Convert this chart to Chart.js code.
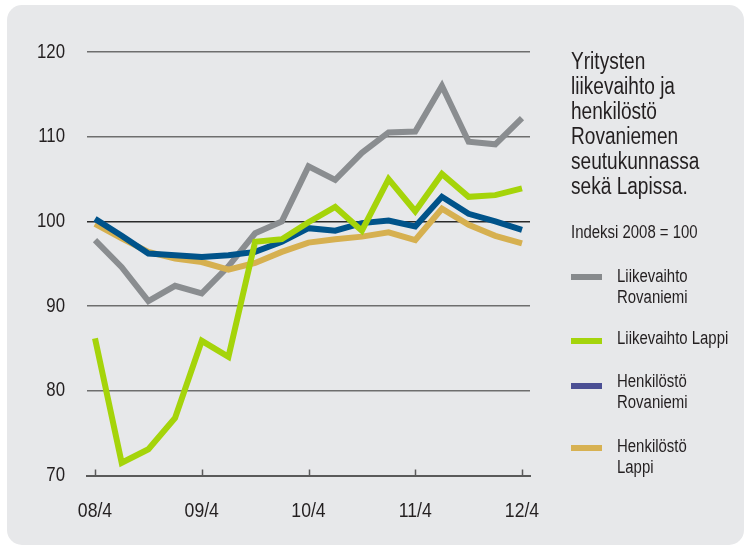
<!DOCTYPE html>
<html>
<head>
<meta charset="utf-8">
<script src="https://cdn.jsdelivr.net/npm/chart.js@4.4.1/dist/chart.umd.min.js"></script>
<style>
  html, body { margin:0; padding:0; background:#ffffff; }
  body { width:747px; height:548px; position:relative; overflow:hidden;
         font-family:"Liberation Sans",Arial,sans-serif; color:#231f20; }
  #card { position:absolute; left:7px; top:5px; width:737px; height:540px; background:#e7e8ea; border-radius:15px; }
  #wrap { position:absolute; left:0; top:0; width:747px; height:548px; }
  .t { position:absolute; left:571px; white-space:nowrap; transform:scaleX(0.83); transform-origin:0 0; }
  #title { top:49px; font-size:23px; line-height:25px; }
  #idx { top:222px; font-size:18px; line-height:21px; }
  .lg { font-size:18px; line-height:21px; left:617px; }
  .sw { position:absolute; left:571px; width:31px; height:6px; }
</style>
</head>
<body>
<div id="card"></div>
<div id="wrap"><canvas id="c" width="747" height="548"></canvas></div>
<div class="t" id="title">Yritysten<br>liikevaihto ja<br>henkilöstö<br>Rovaniemen<br>seutukunnassa<br>sekä Lapissa.</div>
<div class="t" id="idx">Indeksi 2008 = 100</div>
<div class="sw" style="top:274px;background:#878a8d"></div>
<div class="t lg" style="top:266px">Liikevaihto<br>Rovaniemi</div>
<div class="sw" style="top:338px;background:#a4d40c"></div>
<div class="t lg" style="top:328px">Liikevaihto Lappi</div>
<div class="sw" style="top:383px;background:#4b4f94"></div>
<div class="t lg" style="top:371px">Henkilöstö<br>Rovaniemi</div>
<div class="sw" style="top:445px;background:#d7b152"></div>
<div class="t lg" style="top:436px">Henkilöstö<br>Lappi</div>
<script>
// Quarters 08/4 ... 12/4
const quarters = ['08/4','09/1','09/2','09/3','09/4','10/1','10/2','10/3','10/4','11/1','11/2','11/3','11/4','12/1','12/2','12/3','12/4'];
const tickLabels = ['08/4','09/4','10/4','11/4','12/4'];
const tickIndex = [0, 4, 8, 12, 16];
const yTicks = [70, 80, 90, 100, 110, 120];

const liikevaihtoRovaniemi = [97.8, 94.6, 90.6, 92.4, 91.5, 94.7, 98.6, 100.0, 106.5, 104.9, 108.1, 110.5, 110.6, 116.0, 109.4, 109.1, 112.2];
const liikevaihtoLappi     = [86.2, 71.5, 73.1, 76.8, 85.9, 84.0, 97.6, 97.9, 99.9, 101.7, 98.9, 105.0, 101.2, 105.6, 102.9, 103.1, 103.9];
const henkilostoRovaniemi  = [100.3, 98.3, 96.2, 96.0, 95.8, 96.0, 96.4, 97.6, 99.2, 98.9, 99.8, 100.1, 99.4, 102.9, 100.9, 100.0, 99.0];
const henkilostoLappi      = [99.7, 98.0, 96.4, 95.6, 95.2, 94.3, 95.1, 96.4, 97.5, 97.9, 98.2, 98.7, 97.8, 101.5, 99.6, 98.3, 97.4];

const pts = arr => arr.map((v, i) => ({x: i, y: v}));

// condensed look for canvas labels: scale text horizontally around its anchor
const canvas = document.getElementById('c');
const cctx = canvas.getContext('2d');
const origFill = cctx.fillText.bind(cctx);
cctx.fillText = function (text, x, y, maxWidth) {
  this.save();
  this.translate(x, y);
  this.scale(0.84, 1);
  origFill(text, 0, 0);
  this.restore();
};

const tickMarks = {
  id: 'tickMarks',
  afterDraw(chart) {
    const ctx = chart.ctx, xs = chart.scales.x, bottom = chart.chartArea.bottom;
    ctx.save();
    ctx.strokeStyle = '#5a5a5a';
    ctx.lineWidth = 1.5;
    tickIndex.forEach(i => {
      const px = Math.round(xs.getPixelForValue(i)) + 0.5;
      ctx.beginPath();
      ctx.moveTo(px, bottom);
      ctx.lineTo(px, bottom - 6);
      ctx.stroke();
    });
    ctx.restore();
  }
};

const FONT = '"Liberation Sans",Arial,sans-serif';
const common = { fill:false, tension:0, pointRadius:0, borderWidth:6, borderJoinStyle:'miter', borderCapStyle:'butt' };

new Chart(canvas, {
  type: 'line',
  data: {
    datasets: [
      Object.assign({ label:'Liikevaihto Rovaniemi', data: pts(liikevaihtoRovaniemi), borderColor:'#8a8d90', order:3 }, common),
      Object.assign({ label:'Liikevaihto Lappi', data: pts(liikevaihtoLappi), borderColor:'#a5d40a', order:0 }, common),
      Object.assign({ label:'Henkilöstö Rovaniemi', data: pts(henkilostoRovaniemi), borderColor:'#00538a', order:1 }, common),
      Object.assign({ label:'Henkilöstö Lappi', data: pts(henkilostoLappi), borderColor:'#d6b050', order:2 }, common)
    ]
  },
  options: {
    responsive: false,
    animation: false,
    devicePixelRatio: 1,
    layout: { padding: { left: 0, right: 217, top: 52, bottom: 0 } },
    plugins: { legend: { display:false }, tooltip: { enabled:false } },
    scales: {
      x: {
        type: 'linear',
        min: -0.3, max: 16.3,
        afterBuildTicks: s => { s.ticks = tickIndex.map(v => ({ value: v })); },
        afterFit: s => { s.height = 72.5; },
        grid: { display:false, drawTicks:false },
        border: { display:true, color:'#5a5a5a', width:2 },
        ticks: {
          padding: 23,
          color:'#231f20',
          font: { family: FONT, size: 21 },
          maxRotation: 0,
          autoSkip: false,
          callback: v => { const k = tickIndex.indexOf(v); return k >= 0 ? tickLabels[k] : ''; }
        }
      },
      y: {
        min: 70, max: 120,
        afterBuildTicks: s => { s.ticks = yTicks.map(v => ({ value: v })); },
        afterFit: s => { s.width = 87; },
        grid: {
          drawTicks:false,
          color: c => (c.tick && c.tick.value === 100) ? '#2a2a2a' : (c.tick && c.tick.value === 70 ? 'rgba(0,0,0,0)' : '#6e6e6e'),
          lineWidth: 1.5
        },
        border: { display:false },
        ticks: { padding: 22, color:'#231f20', font: { family: FONT, size: 20 } }
      }
    }
  },
  plugins: [tickMarks]
});
</script>
</body>
</html>
